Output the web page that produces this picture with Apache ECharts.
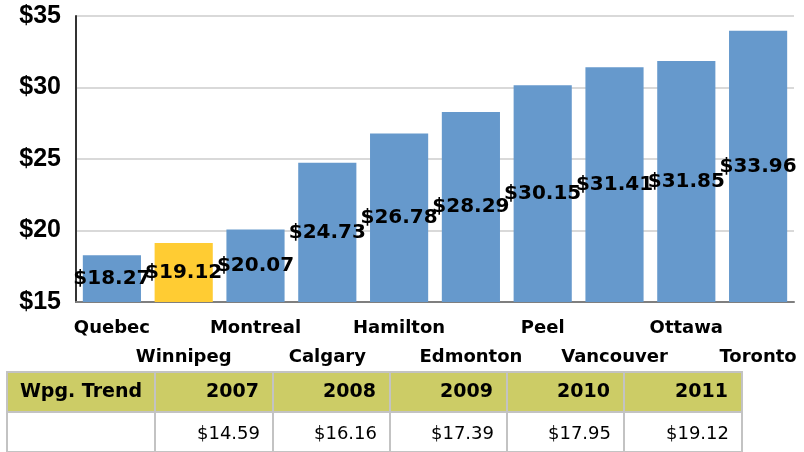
<!DOCTYPE html>
<html>
<head>
<meta charset="utf-8">
<script src="https://cdn.jsdelivr.net/npm/echarts@6/dist/echarts.min.js"></script>
<style>
  html, body { margin: 0; padding: 0; background: #fff; }
  #main { width: 804px; height: 452px; }
</style>
</head>
<body>
<div id="main"></div>
<script>
// city data
const cities = ['Quebec', 'Winnipeg', 'Montreal', 'Calgary', 'Hamilton', 'Edmonton', 'Peel', 'Vancouver', 'Ottawa', 'Toronto'];
const rates = [18.27, 19.12, 20.07, 24.73, 26.78, 28.29, 30.15, 31.41, 31.85, 33.96];
const highlightCity = 'Winnipeg';

// trend table
const trendTitle = 'Wpg. Trend';
const trendYears = ['2007', '2008', '2009', '2010', '2011'];
const trendValues = [14.59, 16.16, 17.39, 17.95, 19.12];

var chartDom = document.getElementById('main');
var myChart = echarts.init(chartDom);

// table built with graphic elements
const colX = [7, 155, 273, 390, 507, 624, 742];
const rowY = [372, 412, 452];
let table = [];
for (let c = 0; c < colX.length - 1; c++) {
  for (let r = 0; r < 2; r++) {
    table.push({
      type: 'rect',
      shape: { x: colX[c], y: rowY[r], width: colX[c + 1] - colX[c], height: rowY[r + 1] - rowY[r] },
      style: { fill: r === 0 ? '#CCCC66' : '#fff', stroke: '#c3c3c3', lineWidth: 2 },
      z: 1
    });
  }
}
// header
table.push({
  type: 'text', x: (colX[0] + colX[1]) / 2, y: 392, z: 2,
  style: { text: trendTitle, font: 'bold 19px "DejaVu Sans"', fill: '#000', align: 'center', verticalAlign: 'middle' }
});
trendYears.forEach((yr, i) => {
  table.push({
    type: 'text', x: colX[i + 2] - 14, y: 392, z: 2,
    style: { text: yr, font: 'bold 19px "DejaVu Sans"', fill: '#000', align: 'right', verticalAlign: 'middle' }
  });
  table.push({
    type: 'text', x: colX[i + 2] - 13, y: 434, z: 2,
    style: { text: '$' + trendValues[i].toFixed(2), font: '18px "DejaVu Sans"', fill: '#000', align: 'right', verticalAlign: 'middle' }
  });
});

var option = {
  animation: false,
  grid: { left: 76, right: 10, top: 16, bottom: 150 },
  xAxis: {
    type: 'category',
    data: cities,
    axisTick: { show: false },
    axisLine: { lineStyle: { color: '#7f7f7f', width: 2 } },
    axisLabel: {
      interval: 0,
      color: '#000',
      fontFamily: 'DejaVu Sans',
      fontWeight: 'bold',
      fontSize: 18,
      lineHeight: 29,
      margin: 12,
      formatter: function (v, idx) {
        // alternate rows so the names fit
        return idx % 2 === 1 ? '\n' + v : v;
      }
    }
  },
  yAxis: {
    type: 'value',
    min: 15,
    max: 35,
    interval: 5,
    axisLine: { show: true, lineStyle: { color: '#333', width: 2 } },
    axisTick: { show: false },
    splitLine: { lineStyle: { color: '#d9d9d9', width: 2 } },
    axisLabel: {
      color: '#000',
      fontFamily: 'Liberation Sans',
      fontWeight: 'bold',
      fontSize: 25,
      margin: 15,
      formatter: function (v) { return '$' + v; }
    }
  },
  series: [
    {
      type: 'bar',
      barCategoryGap: '19%',
      data: rates.map((v, i) => ({
        value: v,
        itemStyle: { color: cities[i] === highlightCity ? '#FFCC33' : '#6699CC' }
      })),
      label: {
        show: true,
        position: 'inside',
        color: '#000',
        fontFamily: 'DejaVu Sans',
        fontWeight: 'bold',
        fontSize: 20,
        formatter: function (p) { return '$' + p.value.toFixed(2); }
      }
    }
  ],
  graphic: table
};

option && myChart.setOption(option);
</script>
</body>
</html>
